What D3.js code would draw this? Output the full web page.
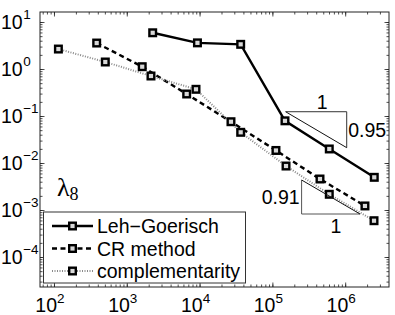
<!DOCTYPE html>
<html>
<head>
<meta charset="utf-8">
<script src="https://cdn.jsdelivr.net/npm/d3@7"></script>
<style>
  body { margin: 0; background: #fff; }
  svg { display: block; font-family: "Liberation Sans", Arial, sans-serif; }
</style>
</head>
<body>
<div class="chart"></div>
<script>
/*------------------------------- data -------------------------------*/

const lehDofs = [2270, 9350, 36700, 149000, 605000, 2510000];
const lehErr = [5.9, 3.6, 3.35, 0.079, 0.0199, 0.00496];

const crDofs = [386, 1630, 6650, 27000, 112000, 451000, 1870000];
const crErr = [3.57, 1.12, 0.294, 0.0756, 0.0185, 0.00457, 0.00122];

const compDofs = [115, 507, 2150, 8930, 36700, 154000, 605000, 2490000];
const compErr = [2.66, 1.41, 0.71, 0.37, 0.045, 0.00863, 0.00216, 0.000592];

const seriesNames = ["Leh\u2212Goerisch", "CR method", "complementarity"];

// slope triangles (data coordinates of the corners)
const triUpperX = [1.52e5, 1.05e6];
const triUpperY = [0.1234, 0.0212];
const triUpperText = ["1", "0.95"];
const triLowerX = [2.52e5, 1.6e6];
const triLowerY = [0.00435, 0.000822];
const triLowerText = ["0.91", "1"];

const xDecades = [2, 3, 4, 5, 6];
const yDecades = [1, 0, -1, -2, -3, -4];

/*------------------------------- init -------------------------------*/

const size = { width: 395, height: 315 };
const plot = { left: 40, right: 389, top: 12, bottom: 287 };

const svg = d3.select(".chart").append("svg")
    .attr("width", size.width)
    .attr("height", size.height);

const x = d3.scaleLog().domain([Math.pow(10, 1.808), Math.pow(10, 6.602)]).range([plot.left, plot.right]);
const y = d3.scaleLog().domain([Math.pow(10, -4.638), Math.pow(10, 1.213)]).range([plot.bottom, plot.top]);

const minor = (lo, hi) => {
    const out = [];
    for (let e = lo; e <= hi; e++) {
        for (let m = 1; m <= 9; m++) {
            out.push(m * Math.pow(10, e));
        }
    }
    return out;
}
const xMinor = minor(1, 6).filter(v => v >= x.domain()[0] && v <= x.domain()[1]);
const yMinor = minor(-5, 1).filter(v => v >= y.domain()[0] && v <= y.domain()[1]);
const xMajor = xDecades.map(d => Math.pow(10, d));
const yMajor = yDecades.map(d => Math.pow(10, d));

/*------------------------------- axes -------------------------------*/

const axisG = svg.append("g");
const addAxis = (axis, tx, ty) => {
    const g = axisG.append("g").attr("transform", `translate(${tx},${ty})`).call(axis);
    g.select(".domain").remove();
    g.selectAll("text").remove();
    g.selectAll("line").attr("stroke", "#222").attr("stroke-width", 0.8);
}
addAxis(d3.axisBottom(x).tickValues(xMinor).tickSize(-2.5), 0, plot.bottom);
addAxis(d3.axisBottom(x).tickValues(xMajor).tickSize(-4.5), 0, plot.bottom);
addAxis(d3.axisTop(x).tickValues(xMinor).tickSize(-2.5), 0, plot.top);
addAxis(d3.axisTop(x).tickValues(xMajor).tickSize(-4.5), 0, plot.top);
addAxis(d3.axisLeft(y).tickValues(yMinor).tickSize(-2.5), plot.left, 0);
addAxis(d3.axisLeft(y).tickValues(yMajor).tickSize(-4.5), plot.left, 0);
addAxis(d3.axisRight(y).tickValues(yMinor).tickSize(-2.5), plot.right, 0);
addAxis(d3.axisRight(y).tickValues(yMajor).tickSize(-4.5), plot.right, 0);

svg.append("rect")
    .attr("x", plot.left).attr("y", plot.top)
    .attr("width", plot.right - plot.left).attr("height", plot.bottom - plot.top)
    .attr("fill", "none").attr("stroke", "#222").attr("stroke-width", 1);

// tick labels "10" with a superscript exponent
const expText = e => (e < 0 ? "\u2212" : "") + Math.abs(e);

const xLab = svg.append("g").selectAll("text").data(xDecades).enter().append("text")
    .attr("x", d => x(Math.pow(10, d)) - 4)
    .attr("y", 312)
    .attr("text-anchor", "middle")
    .style("font-size", "19.5px");
xLab.append("tspan").text("10");
xLab.append("tspan").attr("dy", -9).style("font-size", "13.5px").text(d => expText(d));

const yLab = svg.append("g").selectAll("text").data(yDecades).enter().append("text")
    .attr("x", 1)
    .attr("y", d => y(Math.pow(10, d)) + 6.5)
    .style("font-size", "19.5px");
yLab.append("tspan").text("10");
yLab.append("tspan").attr("dy", -9.5).attr("dx", 0.5).style("font-size", "13.5px").text(d => expText(d));

/*------------------------------- series -------------------------------*/

const series = [
    { name: seriesNames[0], xs: lehDofs, ys: lehErr, stroke: "#000", width: 2.4, dash: null },
    { name: seriesNames[1], xs: crDofs, ys: crErr, stroke: "#000", width: 2.4, dash: "5,3.5" },
    { name: seriesNames[2], xs: compDofs, ys: compErr, stroke: "#8a8a8a", width: 2, dash: "1,1.5" }
];

const line = d3.line().x(d => x(d[0])).y(d => y(d[1]));

const marker = (g, cx, cy) => {
    g.append("rect")
        .attr("x", cx - 3.3).attr("y", cy - 3.3)
        .attr("width", 6.6).attr("height", 6.6)
        .attr("fill", "#d8d8d8")
        .attr("stroke", "#000")
        .attr("stroke-width", 2.4);
}

series.forEach(s => {
    const pts = s.xs.map((v, i) => [v, s.ys[i]]);
    svg.append("path")
        .datum(pts)
        .attr("d", line)
        .attr("fill", "none")
        .attr("stroke", s.stroke)
        .attr("stroke-width", s.width)
        .attr("stroke-dasharray", s.dash);
});
series.forEach(s => {
    const g = svg.append("g");
    s.xs.forEach((v, i) => marker(g, x(v), y(s.ys[i])));
});

/*------------------------------- slope triangles -------------------------------*/

const tri = svg.append("g").attr("fill", "none");
// upper: horizontal top, vertical right
tri.append("path")
    .attr("d", `M${x(triUpperX[0])},${y(triUpperY[0])}H${x(triUpperX[1])}V${y(triUpperY[1])}`)
    .attr("stroke", "#333").attr("stroke-width", 1);
tri.append("line")
    .attr("x1", x(triUpperX[0])).attr("y1", y(triUpperY[0]))
    .attr("x2", x(triUpperX[1])).attr("y2", y(triUpperY[1]))
    .attr("stroke", "#111").attr("stroke-width", 1);
svg.append("text")
    .attr("x", (x(triUpperX[0]) + x(triUpperX[1])) / 2 + 6)
    .attr("y", y(triUpperY[0]) - 3)
    .attr("text-anchor", "middle").style("font-size", "19.5px")
    .text(triUpperText[0]);
svg.append("text")
    .attr("x", x(triUpperX[1]) + 1.5)
    .attr("y", (y(triUpperY[0]) + y(triUpperY[1])) / 2 + 7)
    .style("font-size", "19.5px")
    .text(triUpperText[1]);

// lower: vertical left, horizontal bottom
tri.append("path")
    .attr("d", `M${x(triLowerX[0])},${y(triLowerY[0])}V${y(triLowerY[1])}H${x(triLowerX[1])}`)
    .attr("stroke", "#555").attr("stroke-width", 1);
tri.append("line")
    .attr("x1", x(triLowerX[0])).attr("y1", y(triLowerY[0]))
    .attr("x2", x(triLowerX[1])).attr("y2", y(triLowerY[1]))
    .attr("stroke", "#111").attr("stroke-width", 1);
svg.append("text")
    .attr("x", x(triLowerX[0]) - 2)
    .attr("y", (y(triLowerY[0]) + y(triLowerY[1])) / 2 + 7)
    .attr("text-anchor", "end").style("font-size", "19.5px")
    .text(triLowerText[0]);
svg.append("text")
    .attr("x", (x(triLowerX[0]) + x(triLowerX[1])) / 2 + 5)
    .attr("y", y(triLowerY[1]) + 19)
    .attr("text-anchor", "middle").style("font-size", "19.5px")
    .text(triLowerText[1]);

/*------------------------------- lambda label -------------------------------*/

const lam = svg.append("text")
    .attr("x", 57).attr("y", 196)
    .style("font-family", "'Liberation Serif', 'DejaVu Serif', serif")
    .style("font-size", "26px");
lam.append("tspan").text("\u03bb");
lam.append("tspan").attr("dy", 4).style("font-size", "18px").text("8");

/*------------------------------- legend -------------------------------*/

const legend = svg.append("g").attr("id", "legend");
legend.append("rect")
    .attr("x", 43.5).attr("y", 212)
    .attr("width", 202).attr("height", 71)
    .attr("fill", "#fff").attr("stroke", "#333").attr("stroke-width", 1);

const rowY = [226, 248.5, 271];
series.forEach((s, i) => {
    const g = legend.append("g");
    g.append("line")
        .attr("x1", 52).attr("x2", 93)
        .attr("y1", rowY[i]).attr("y2", rowY[i])
        .attr("stroke", s.stroke)
        .attr("stroke-width", s.width)
        .attr("stroke-dasharray", s.dash);
    marker(g, 72.5, rowY[i]);
    g.append("text")
        .attr("x", 97).attr("y", rowY[i] + 7)
        .style("font-size", "19.5px")
        .text(s.name);
});
</script>
</body>
</html>
